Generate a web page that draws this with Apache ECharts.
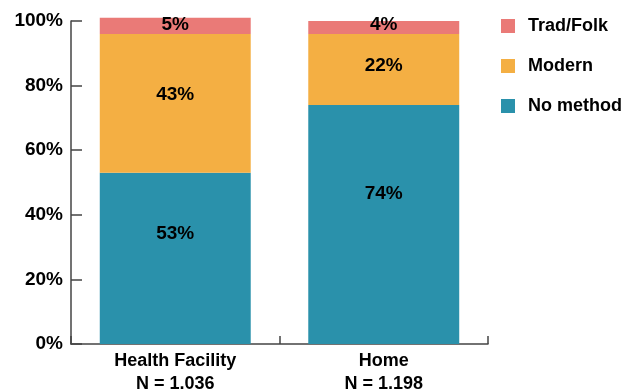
<!DOCTYPE html>
<html>
<head>
<meta charset="utf-8">
<script src="https://cdn.jsdelivr.net/npm/echarts@6/dist/echarts.min.js"></script>
<style>
  html, body { margin: 0; padding: 0; background: #fff; }
  #chart { width: 623px; height: 389px; }
</style>
</head>
<body>
<div id="chart"></div>
<script>
// Place of delivery and contraceptive method use (percent of women)
const categories = ['Health Facility\nN = 1,036', 'Home\nN = 1,198'];
const noMethod = [53, 74];
const modern = [43, 22];
const tradFolk = [5, 4];
const yTicks = [0, 20, 40, 60, 80, 100];

// vertical nudges (px) of the value labels inside each segment
const noMethodLabelShift = [-25, -31];
const modernLabelShift = [-9, -4];
const tradFolkLabelShift = [-1, -3];

const FONT = '"Liberation Sans", Arial, sans-serif';
const colors = { noMethod: '#2A91AB', modern: '#F4AF43', tradFolk: '#EA7A77' };

const chart = echarts.init(document.getElementById('chart'), null, { renderer: 'canvas' });

function barSeries(name, data, shifts, color) {
  return {
    name: name,
    type: 'bar',
    stack: 'total',
    data: data.map(function (v, i) {
      return { value: v, label: { offset: [0, shifts[i]] } };
    }),
    barWidth: '72.4%',
    clip: false,
    itemStyle: { color: color },
    emphasis: { disabled: true },
    label: {
      show: true,
      position: 'inside',
      formatter: '{c}%',
      fontFamily: FONT,
      fontWeight: 'bold',
      fontSize: 19,
      color: '#000'
    }
  };
}

chart.setOption({
  animation: false,
  grid: {
    left: 71, right: 135, top: 21, bottom: 45,
    containLabel: false,
    outerBoundsMode: 'none'
  },
  legend: {
    data: ['Trad/Folk', 'Modern', 'No method'],
    orient: 'vertical',
    left: 501,
    top: 17,
    padding: 0,
    itemWidth: 14,
    itemHeight: 14,
    itemGap: 22,
    icon: 'rect',
    textStyle: {
      fontFamily: FONT, fontWeight: 'bold', fontSize: 18, color: '#000',
      lineHeight: 18, padding: [0, 0, 0, 8]
    },
    selectedMode: false
  },
  xAxis: {
    type: 'category',
    data: categories,
    axisLine: { lineStyle: { color: '#444', width: 1.5 } },
    axisTick: { show: true, inside: true, length: 8, lineStyle: { color: '#444', width: 1.5 } },
    axisLabel: {
      fontFamily: FONT, fontWeight: 'bold', fontSize: 18, color: '#000',
      lineHeight: 23, margin: 6
    }
  },
  yAxis: {
    type: 'value',
    min: 0,
    max: 100,
    interval: 20,
    splitLine: { show: false },
    axisLine: { show: true, lineStyle: { color: '#444', width: 1.5 } },
    axisTick: { show: true, inside: true, length: 11, lineStyle: { color: '#444', width: 1.5 } },
    axisLabel: {
      fontFamily: FONT, fontWeight: 'bold', fontSize: 19, color: '#000', margin: 8,
      formatter: function (v) { return yTicks.indexOf(v) >= 0 ? v + '%' : ''; }
    }
  },
  series: [
    barSeries('No method', noMethod, noMethodLabelShift, colors.noMethod),
    barSeries('Modern', modern, modernLabelShift, colors.modern),
    barSeries('Trad/Folk', tradFolk, tradFolkLabelShift, colors.tradFolk)
  ]
});
</script>
</body>
</html>
